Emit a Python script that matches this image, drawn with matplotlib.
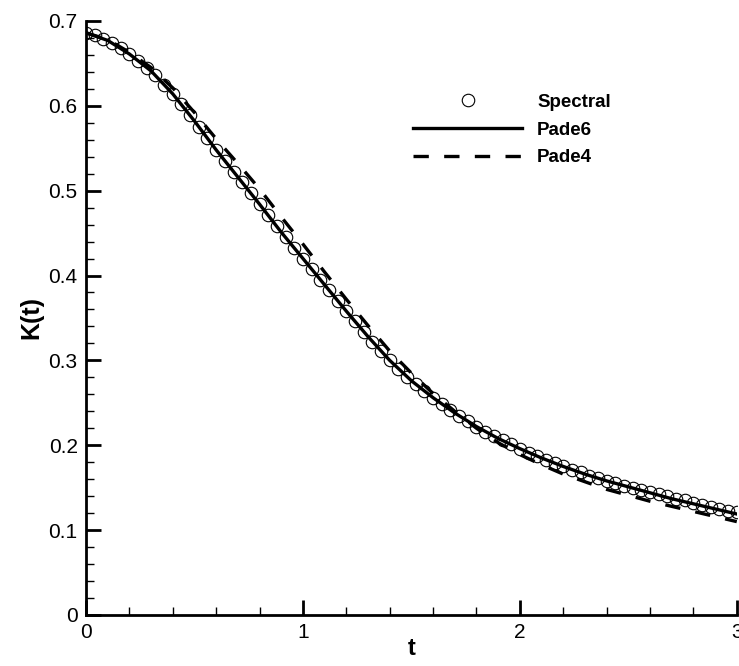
import numpy as np
import matplotlib
matplotlib.use("Agg")
import matplotlib.pyplot as plt
from matplotlib.ticker import MultipleLocator

plt.rcParams['font.family'] = ['Liberation Sans', 'DejaVu Sans']

# Spectral solution, every 0.04 in t
t_spec = np.linspace(0, 3, 76)
k_spec = [0.686, 0.683, 0.679, 0.674, 0.668, 0.661, 0.653, 0.645, 0.636, 0.625,
          0.614, 0.602, 0.589, 0.575, 0.562, 0.548, 0.535, 0.522, 0.510, 0.497,
          0.484, 0.471, 0.458, 0.445, 0.432, 0.420, 0.408, 0.395, 0.383, 0.370,
          0.358, 0.346, 0.334, 0.322, 0.311, 0.300, 0.290, 0.281, 0.272, 0.264,
          0.256, 0.249, 0.242, 0.235, 0.228, 0.222, 0.216, 0.211, 0.206, 0.201,
          0.196, 0.191, 0.187, 0.183, 0.179, 0.175, 0.171, 0.168, 0.164, 0.161,
          0.158, 0.155, 0.152, 0.150, 0.147, 0.145, 0.142, 0.140, 0.137, 0.135,
          0.132, 0.130, 0.127, 0.125, 0.123, 0.121]

# Pade schemes, every 0.1 in t
t_pade = np.linspace(0, 3, 31)
k_pade6 = [0.686, 0.677, 0.661, 0.641, 0.614, 0.582, 0.548, 0.516, 0.484, 0.451,
           0.420, 0.389, 0.358, 0.328, 0.300, 0.276, 0.256, 0.238, 0.222, 0.208,
           0.196, 0.185, 0.175, 0.166, 0.158, 0.151, 0.144, 0.137, 0.131, 0.125,
           0.119]
k_pade4 = [0.686, 0.678, 0.663, 0.645, 0.621, 0.592, 0.561, 0.532, 0.502, 0.469,
           0.437, 0.404, 0.372, 0.341, 0.311, 0.285, 0.261, 0.240, 0.220, 0.203,
           0.189, 0.177, 0.166, 0.157, 0.148, 0.141, 0.134, 0.128, 0.122, 0.116,
           0.110]

fig = plt.figure(figsize=(7.39, 6.66), dpi=100)
ax = fig.add_axes([0.1164, 0.0766, 0.8806, 0.892])

ax.plot(t_spec, k_spec, 'o', mfc='none', mec='black', ms=9, mew=0.8,
        label='Spectral', zorder=2)
ax.plot(t_pade, k_pade6, '-', color='black', lw=2.4, label='Pade6', zorder=3)
ax.plot(t_pade, k_pade4, '--', color='black', lw=2.4, dashes=(4.6, 4.6),
        label='Pade4', zorder=3)

ax.set_xlim(0, 3)
ax.set_ylim(0, 0.7)
ax.spines['top'].set_visible(False)
ax.spines['right'].set_visible(False)
ax.spines['left'].set_linewidth(2)
ax.spines['bottom'].set_linewidth(2)

ax.xaxis.set_minor_locator(MultipleLocator(0.2))
ax.yaxis.set_minor_locator(MultipleLocator(0.02))
ax.set_xticks([0, 1, 2, 3])
ax.set_xticklabels(['0', '1', '2', '3'])
ax.set_yticks([0, 0.1, 0.2, 0.3, 0.4, 0.5, 0.6, 0.7])
ax.set_yticklabels(['0', '0.1', '0.2', '0.3', '0.4', '0.5', '0.6', '0.7'])
ax.tick_params(which='major', direction='in', length=11, width=2, labelsize=15, pad=6)
ax.tick_params(which='minor', direction='in', length=6, width=1)

ax.set_xlabel('t', fontsize=17, fontweight='bold', labelpad=-4)
ax.set_ylabel('K(t)', fontsize=18, fontweight='bold', labelpad=4)

leg = ax.legend(loc='upper left', bbox_to_anchor=(0.477, 0.906), frameon=False,
                prop={'weight': 'bold', 'size': 13.5}, handlelength=5.8,
                handletextpad=0.8, labelspacing=0.57, numpoints=1)

fig.savefig('out.png', dpi=100)
